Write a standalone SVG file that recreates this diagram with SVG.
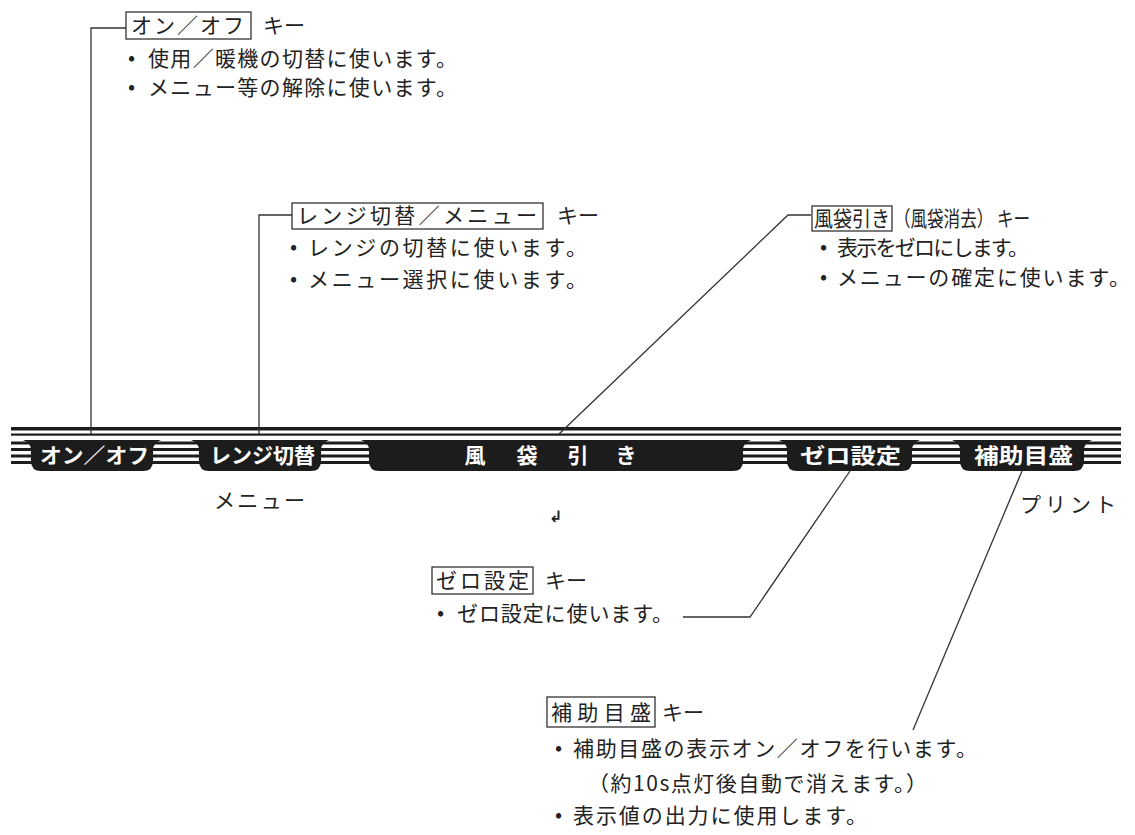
<svg xmlns="http://www.w3.org/2000/svg" width="1135" height="835" viewBox="0 0 1135 835">
<style>
.t{font-family:"Noto Sans CJK JP","Noto Sans",sans-serif;font-size:21px;fill:#222}
.k{font-family:"Noto Sans CJK JP","Noto Sans",sans-serif;font-size:21px;fill:#fff;font-weight:bold}
.box{fill:none;stroke:#333;stroke-width:1.3}
.cn{fill:none;stroke:#333;stroke-width:1.3}
.pill{fill:#1c1c1c}
.bar{fill:#1c1c1c}
</style>
<rect width="1135" height="835" fill="#fff"/>

<g id="bar">
<rect class="bar" x="11" y="427" width="1110" height="3.5"/>
<rect class="bar" x="11" y="433.5" width="1110" height="2.2"/>
<rect class="bar" x="11" y="441.5" width="1110" height="3"/>
<rect class="bar" x="11" y="448" width="1110" height="3"/>
<rect class="bar" x="11" y="454.5" width="1110" height="3"/>
<rect class="bar" x="11" y="461" width="1110" height="3"/>
</g>

<g id="connectors">
<path class="cn" d="M91,434 V28 H126"/>
<path class="cn" d="M259,434 V215 H292"/>
<path class="cn" d="M558,435 L788,215 H811"/>
<path class="cn" d="M850,471 L750,617 H683"/>
<path class="cn" d="M1022,471 L913,730"/>
</g>

<g id="key-onoff">
<path class="pill" d="M23,440 L161,440 Q153,443 153,450 L153,461 Q153,471 143,471 L41,471 Q31,471 31,461 L31,450 Q31,443 23,440 Z"/>
<text class="k" x="40" y="463" textLength="109" lengthAdjust="spacingAndGlyphs">オン／オフ</text>
</g>
<g id="key-range">
<path class="pill" d="M191,440 L329,440 Q321,443 321,450 L321,461 Q321,471 311,471 L209,471 Q199,471 199,461 L199,450 Q199,443 191,440 Z"/>
<text class="k" x="210" y="463" textLength="105" lengthAdjust="spacingAndGlyphs">レンジ切替</text>
<text class="t" x="214" y="508" textLength="91" lengthAdjust="spacing">メニュー</text>
</g>
<g id="key-tare">
<path class="pill" d="M361,440 L751,440 Q743,443 743,450 L743,461 Q743,471 733,471 L379,471 Q369,471 369,461 L369,450 Q369,443 361,440 Z"/>
<text class="k" x="475 527 578 626" y="463" text-anchor="middle" font-weight="normal">風袋引き</text>
<text x="556" y="522" font-family="DejaVu Sans,sans-serif" font-size="16" font-weight="bold" fill="#222" text-anchor="middle">↲</text>
</g>
<g id="key-zero">
<path class="pill" d="M779,440 L920,440 Q912,443 912,450 L912,461 Q912,471 902,471 L797,471 Q787,471 787,461 L787,450 Q787,443 779,440 Z"/>
<text class="k" x="800" y="463" textLength="101" lengthAdjust="spacingAndGlyphs">ゼロ設定</text>
</g>
<g id="key-aux">
<path class="pill" d="M952,440 L1092,440 Q1084,443 1084,450 L1084,461 Q1084,471 1074,471 L970,471 Q960,471 960,461 L960,450 Q960,443 952,440 Z"/>
<text class="k" x="974" y="463" textLength="99" lengthAdjust="spacingAndGlyphs">補助目盛</text>
<text class="t" x="1020" y="512" textLength="96" lengthAdjust="spacing">プリント</text>
</g>

<g id="note-onoff">
<rect class="box" x="126" y="12" width="125" height="27"/>
<text class="t" x="131" y="33" textLength="113" lengthAdjust="spacing">オン／オフ</text>
<text class="t" x="263" y="33">キー</text>
<text class="t"><tspan x="128" y="65">•</tspan><tspan x="148" y="66" textLength="309" lengthAdjust="spacing">使用／暖機の切替に使います。</tspan></text>
<text class="t"><tspan x="128" y="94">•</tspan><tspan x="148" y="95" textLength="309" lengthAdjust="spacing">メニュー等の解除に使います。</tspan></text>
</g>

<g id="note-range">
<rect class="box" x="292" y="203" width="251" height="26"/>
<text class="t" x="297" y="223" textLength="240" lengthAdjust="spacing">レンジ切替／メニュー</text>
<text class="t" x="557" y="223">キー</text>
<text class="t"><tspan x="290" y="254">•</tspan><tspan x="308" y="255" textLength="279" lengthAdjust="spacing">レンジの切替に使います。</tspan></text>
<text class="t"><tspan x="290" y="286">•</tspan><tspan x="308" y="287" textLength="279" lengthAdjust="spacing">メニュー選択に使います。</tspan></text>
</g>

<g id="note-tare">
<rect class="box" x="812" y="206" width="80" height="25"/>
<text class="t" x="814" y="226" font-size="19" textLength="76" lengthAdjust="spacingAndGlyphs">風袋引き</text>
<text class="t" x="894" y="226" textLength="136" lengthAdjust="spacingAndGlyphs">（風袋消去） キー</text>
<text class="t"><tspan x="820" y="254">•</tspan><tspan x="837" y="255" textLength="192" lengthAdjust="spacing">表示をゼロにします。</tspan></text>
<text class="t"><tspan x="820" y="284">•</tspan><tspan x="837" y="285" textLength="293" lengthAdjust="spacing">メニューの確定に使います。</tspan></text>
</g>

<g id="note-zero">
<rect class="box" x="432" y="567" width="101" height="27"/>
<text class="t" x="436" y="588" textLength="93" lengthAdjust="spacing">ゼロ設定</text>
<text class="t" x="545" y="588">キー</text>
<text class="t"><tspan x="437" y="620">•</tspan><tspan x="457" y="621" textLength="216" lengthAdjust="spacing">ゼロ設定に使います。</tspan></text>
</g>

<g id="note-aux">
<rect class="box" x="547" y="697" width="108" height="30"/>
<text class="t" x="551" y="720" textLength="100" lengthAdjust="spacing">補助目盛</text>
<text class="t" x="662" y="720">キー</text>
<text class="t"><tspan x="555" y="755">•</tspan><tspan x="573" y="756" textLength="404" lengthAdjust="spacing">補助目盛の表示オン／オフを行います。</tspan></text>
<text class="t" x="588" y="791" textLength="339" lengthAdjust="spacing">（約10s点灯後自動で消えます。）</text>
<text class="t"><tspan x="555" y="822">•</tspan><tspan x="573" y="823" textLength="294" lengthAdjust="spacing">表示値の出力に使用します。</tspan></text>
</g>
</svg>
